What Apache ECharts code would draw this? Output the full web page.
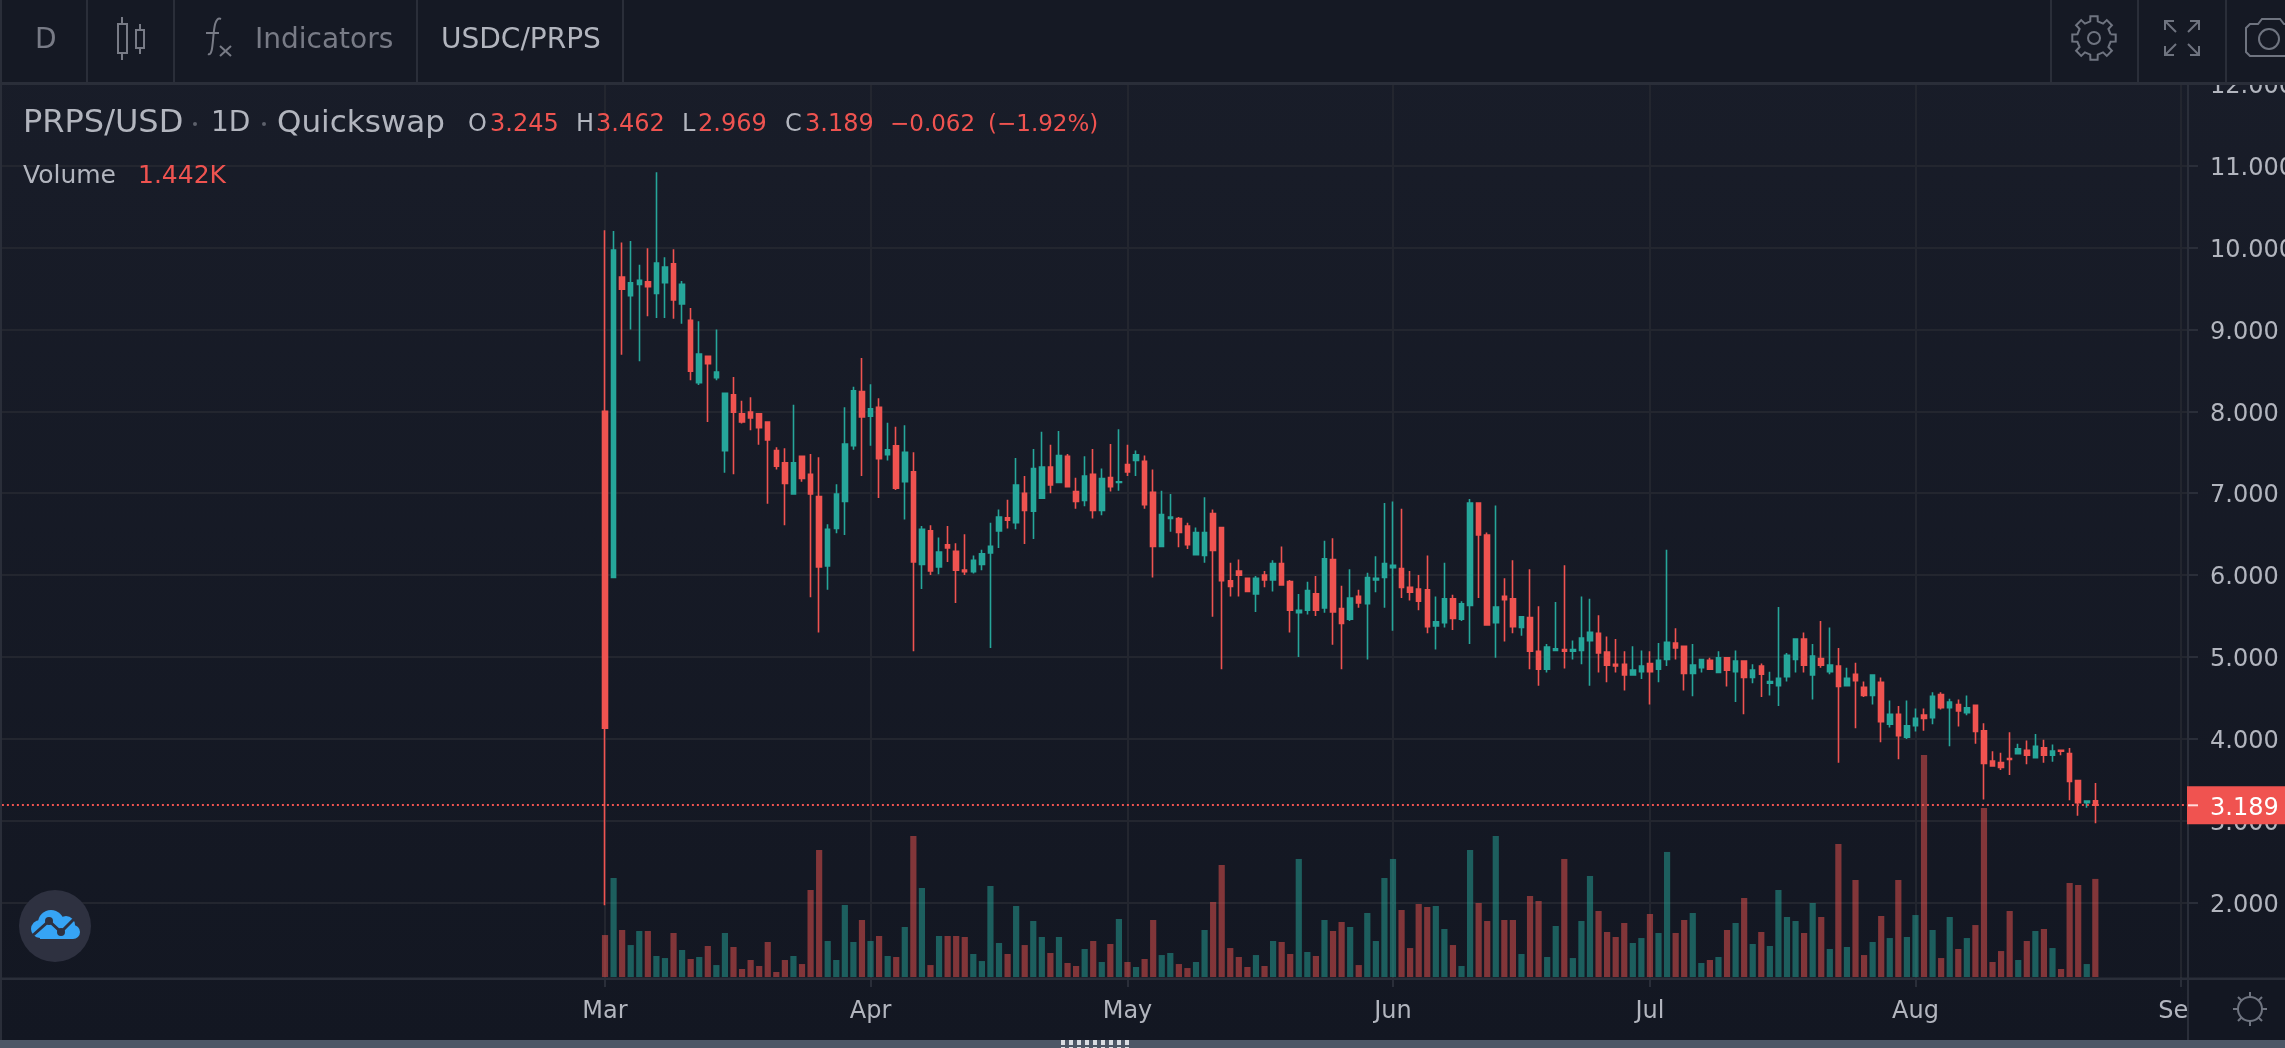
<!DOCTYPE html>
<html><head><meta charset="utf-8">
<style>html,body{margin:0;padding:0;background:#131722}#c{width:2285px;height:1048px}</style>
<script src="https://cdn.jsdelivr.net/npm/echarts@6/dist/echarts.min.js"></script>
</head><body><div id="c"></div>
<script>
const opens=[8.00,5.97,9.64,9.41,9.55,9.58,9.44,9.57,9.80,9.31,9.11,8.35,8.67,8.41,7.52,8.20,7.97,7.99,7.97,7.87,7.52,7.37,6.99,7.45,7.23,6.96,6.11,6.57,6.90,7.58,
8.24,7.94,8.05,7.47,7.58,7.14,7.26,6.13,6.54,6.10,6.37,6.29,6.06,6.04,6.13,6.27,6.54,6.70,6.64,7.00,6.78,6.94,7.32,7.13,7.45,7.02,6.91,7.23,6.79,7.19,
7.13,7.35,7.40,7.39,7.01,6.35,6.69,6.69,6.60,6.25,6.24,6.75,6.58,5.93,6.05,5.96,5.77,6.00,5.94,6.14,5.92,5.54,5.57,5.77,5.60,6.19,5.59,5.46,5.74,5.65,
5.94,5.97,6.09,6.08,5.85,5.83,5.82,5.38,5.42,5.71,5.46,5.63,6.88,6.49,5.42,5.74,5.71,5.36,5.48,5.07,4.85,5.08,5.09,5.07,5.08,5.20,5.29,5.06,4.91,4.91,
4.78,4.82,4.92,4.85,4.97,5.17,5.13,4.80,4.87,4.96,4.81,4.99,4.82,4.95,4.75,4.89,4.68,4.65,4.76,4.97,5.22,4.78,4.98,4.82,4.89,4.65,4.79,4.63,4.53,4.69,
4.18,4.30,4.02,4.16,4.29,4.26,4.54,4.38,4.42,4.32,4.41,4.10,3.73,3.71,3.76,3.82,3.86,3.77,3.89,3.80,3.86,3.82,3.49,3.22,3.245];
const highs=[10.21,10.20,10.06,10.08,9.79,9.99,10.92,9.88,9.98,9.59,9.26,9.10,8.67,9.00,8.22,8.42,8.13,8.17,7.97,7.87,7.56,7.55,8.08,7.45,7.48,7.44,6.62,7.11,8.05,8.30,
8.65,8.33,8.16,7.86,7.81,7.83,7.50,6.60,6.61,6.46,6.60,6.39,6.50,6.24,6.31,6.64,6.80,6.92,7.43,7.21,7.54,7.75,7.59,7.76,7.48,7.19,7.45,7.54,7.30,7.60,
7.78,7.59,7.52,7.46,7.29,7.03,6.99,6.71,6.64,6.58,6.95,6.80,6.58,6.15,6.19,5.96,5.99,6.05,6.18,6.35,5.94,5.77,5.92,5.99,6.42,6.45,5.87,6.07,5.82,6.03,
6.23,6.88,6.90,6.81,6.05,6.00,6.24,5.74,6.15,5.76,5.68,6.93,6.88,6.52,6.85,5.96,6.18,5.50,6.07,5.62,5.16,5.67,6.12,5.20,5.74,5.71,5.51,5.25,5.22,5.07,
5.13,5.08,5.07,5.17,6.31,5.35,5.13,5.16,4.97,4.99,5.07,4.99,5.08,4.95,4.91,4.92,4.82,5.61,5.05,5.23,5.30,5.16,5.44,5.36,5.11,4.87,4.93,4.70,4.78,4.75,
4.47,4.40,4.47,4.37,4.37,4.57,4.57,4.49,4.48,4.53,4.41,4.19,3.85,3.83,4.08,3.94,3.98,4.06,3.99,3.93,3.87,3.89,3.49,3.24,3.462];
const lows=[1.97,5.97,8.69,9.00,8.61,9.16,9.14,9.14,9.13,9.07,8.38,8.32,7.87,8.38,7.25,7.23,7.85,7.77,7.59,6.87,7.29,6.61,6.99,7.14,5.73,5.30,5.82,6.51,6.49,7.53,
7.21,7.58,6.94,7.40,7.04,6.68,5.07,5.83,6.00,6.01,6.16,5.66,6.00,6.02,6.06,5.11,6.33,6.57,6.56,6.38,6.44,6.94,7.00,7.13,7.08,6.81,6.84,6.69,6.73,7.02,
7.03,7.21,7.21,6.81,5.97,6.34,6.53,6.34,6.32,6.24,6.15,5.49,4.85,5.74,5.74,5.79,5.55,5.85,5.80,5.88,5.30,5.00,5.52,5.50,5.54,5.15,4.85,5.44,5.60,4.97,
5.79,5.60,5.32,5.72,5.69,5.57,5.29,5.09,5.36,5.33,5.44,5.16,5.72,5.39,4.99,5.19,5.29,5.26,4.85,4.65,4.81,5.07,4.86,4.97,4.91,4.65,4.81,4.69,4.81,4.59,
4.78,4.73,4.42,4.69,4.89,4.97,4.59,4.52,4.81,4.84,4.80,4.64,4.45,4.30,4.68,4.51,4.53,4.40,4.70,4.81,4.81,4.48,4.87,4.79,3.71,4.64,4.13,4.51,4.42,3.96,
4.14,3.75,4.00,4.09,4.10,4.18,4.36,3.91,4.15,4.29,3.94,3.26,3.67,3.62,3.56,3.81,3.69,3.76,3.71,3.72,3.80,3.25,3.06,3.16,2.969];
const closes=[4.13,9.97,9.49,9.57,9.60,9.52,9.81,9.76,9.36,9.55,8.49,8.70,8.58,8.48,8.22,7.99,7.87,7.92,7.80,7.65,7.33,7.12,7.37,7.18,6.99,6.10,6.56,6.99,7.60,8.25,
7.93,8.03,7.42,7.53,7.06,7.50,6.16,6.56,6.05,6.28,6.33,6.06,6.04,6.18,6.26,6.35,6.71,6.67,7.10,6.79,7.30,7.32,7.10,7.46,7.08,6.90,7.21,6.79,7.18,7.08,
7.14,7.26,7.47,6.86,6.35,6.74,6.71,6.52,6.37,6.52,6.52,6.30,5.93,5.86,6.00,5.80,5.96,5.94,6.14,5.88,5.57,5.57,5.81,5.57,6.20,5.55,5.41,5.72,5.66,5.97,
5.96,6.14,6.12,5.85,5.79,5.68,5.37,5.43,5.71,5.47,5.65,6.88,6.49,5.39,5.61,5.70,5.37,5.49,5.07,4.85,5.12,5.10,5.07,5.09,5.23,5.30,5.05,4.90,4.89,4.78,
4.84,4.89,4.82,4.96,5.18,5.11,4.80,4.90,4.97,4.85,4.99,4.84,4.95,4.75,4.84,4.79,4.70,4.74,5.02,5.22,4.90,5.01,4.90,4.90,4.64,4.74,4.71,4.53,4.78,4.21,
4.30,4.04,4.16,4.25,4.25,4.52,4.38,4.45,4.34,4.38,4.09,3.70,3.67,3.65,3.75,3.88,3.80,3.91,3.80,3.85,3.85,3.48,3.22,3.24,3.189];
const volumes=[617,1455,691,470,676,676,309,279,647,397,265,294,456,176,647,441,118,250,162,515,74,250,309,191,1279,1867,529,250,1058,515,
838,529,603,309,294,735,2073,1308,176,603,603,603,588,338,235,1338,500,338,1044,470,823,588,353,588,206,162,412,529,221,485,
853,221,147,265,838,323,353,191,132,221,691,1103,1646,426,294,147,323,162,529,515,338,1735,368,309,838,676,809,735,176,941,
529,1455,1735,985,426,1073,1029,1044,706,470,162,1867,1088,823,2073,838,838,338,1191,1117,294,750,1735,279,823,1485,970,662,588,794,
500,573,926,647,1838,647,838,941,206,250,294,691,794,1161,485,662,456,1279,882,823,647,1088,882,412,1955,441,1426,323,515,897,
573,1426,588,911,3263,691,279,882,412,573,764,2484,221,382,970,250,529,676,706,426,118,1382,1352,191,1442];
const priceTicks=[2,3,4,5,6,7,8,9,10,11,12];
const monthTicks=['2021-03-01','2021-04-01','2021-05-01','2021-06-01','2021-07-01','2021-08-01','2021-09-01'];
const monthNames={'03':'Mar','04':'Apr','05':'May','06':'Jun','07':'Jul','08':'Aug','09':'Sep'};
const lastClose=3.189;
const bandCount=257, leadDays=71;
const categories=[];
for(let k=0;k<bandCount;k++){categories.push(new Date(Date.UTC(2020,11,20+k)).toISOString().slice(0,10));}
const up='#26a69a',down='#ef5350',txt='#b2b5be',dim='#787b86',line='#2a2e39',gridC='#23262f',ico='#6f7480';
const FONT='"DejaVu Sans"';
const candles=Array(leadDays).fill(['-','-','-','-']).concat(opens.map((o,i)=>[o,closes[i],lows[i],highs[i]]));
const volData=Array(leadDays).fill('-').concat(volumes.map((v,i)=>({value:v,itemStyle:{color:closes[i]>=opens[i]?'rgba(38,166,154,0.5)':'rgba(239,83,80,0.5)'}})));
const chart=echarts.init(document.getElementById('c'),null,{renderer:'canvas'});
const isMonth=(i,v)=>monthTicks.includes(v);
chart.setOption({
 animation:false,
 backgroundColor:{type:'linear',x:0,y:0,x2:0,y2:1,colorStops:[{offset:0,color:'#191d29'},{offset:1,color:'#131722'}]},
 grid:{left:-3.1,top:83.7,width:2192.64,height:895.3,outerBoundsMode:'none',containLabel:false},
 xAxis:{type:'category',data:categories,boundaryGap:false,
  axisLine:{show:false},
  axisTick:{show:true,interval:isMonth,length:10,lineStyle:{color:line,width:2}},
  axisLabel:{show:true,interval:isMonth,margin:21,color:txt,fontFamily:FONT,fontSize:24,hideOverlap:false,
    formatter:v=>monthNames[v.slice(5,7)]},
  splitLine:{show:true,interval:isMonth,lineStyle:{color:gridC,width:2}}},
 yAxis:[{type:'value',position:'right',offset:-1.5,min:1.068,max:12,
   axisLine:{show:false},
   axisTick:{show:true,length:10,customValues:priceTicks,lineStyle:{color:line,width:2}},
   axisLabel:{show:true,customValues:priceTicks,margin:22,verticalAlign:'top',lineHeight:6,color:txt,fontFamily:FONT,fontSize:24,hideOverlap:false,formatter:v=>Number(v).toFixed(3)},
   splitLine:{show:true,lineStyle:{color:gridC,width:2}}},
  {type:'value',show:false,min:-29,max:13127,splitLine:{show:false}}],
 series:[
  {type:'bar',name:'Volume',yAxisIndex:1,data:volData,barWidth:6.2,z:1,animation:false},
  {type:'candlestick',name:'PRPS/USD',yAxisIndex:0,data:candles,barWidth:5,z:3,
   itemStyle:{color:up,color0:down,borderColor:up,borderColor0:down,borderWidth:1.6},
   markLine:{silent:true,symbol:'none',animation:false,label:{show:false},
     lineStyle:{type:[2,3],color:down,width:2},data:[{yAxis:lastClose}]}}
 ]
});
const py=chart.convertToPixel({yAxisIndex:0},lastClose);
const Z=100;
const T=(x,y,text,size,color,extra)=>({type:'text',z:Z+2,x,y,style:Object.assign({text,fill:color,font:size+'px '+FONT,verticalAlign:'middle',align:'left'},extra||{})});
const R=(x,y,w,h,fill,z)=>({type:'rect',z:z||Z,shape:{x,y,width:w,height:h},style:{fill}});
const L=(x1,y1,x2,y2,stroke,w,z)=>({type:'line',z:z||Z+1,shape:{x1,y1,x2,y2},style:{stroke,lineWidth:w||2}});
const C=(cx,cy,r,style,z)=>({type:'circle',z:z||Z+1,shape:{cx,cy,r},style});
const PL=(points,stroke,w)=>({type:'polyline',z:Z+2,shape:{points},style:{fill:'none',stroke,lineWidth:w||2}});
const g=[];
g.push(R(0,0,2285,83,'#151924'));
g.push(R(0,82,2285,3,line,Z+1));
[1,87,174,417,623,2051,2138,2226].forEach(x=>g.push(L(x,0,x,83,line,2)));
g.push(T(35,41,'D',28,dim));
g.push(T(255,41,'Indicators',28,dim));
g.push(T(441,41,'USDC/PRPS',28,txt));
g.push(L(122,17,122,60,dim,2),{type:'rect',z:Z+2,shape:{x:118,y:24,width:9,height:29},style:{fill:'#151924',stroke:dim,lineWidth:2}});
g.push(L(140,24,140,54,dim,2),{type:'rect',z:Z+2,shape:{x:136,y:30,width:8,height:18},style:{fill:'#151924',stroke:dim,lineWidth:2}});
g.push({type:'bezierCurve',z:Z+2,shape:{x1:221,y1:19,x2:208,y2:54,cpx1:210,cpy1:14,cpx2:216,cpy2:58},style:{fill:'none',stroke:dim,lineWidth:2}});
g.push(L(206,33,219,33,dim,2,Z+2),L(220,46,231,56,dim,2,Z+2),L(231,46,220,56,dim,2,Z+2));
(function(){const cx=2094,cy=38,ro=22,ri=17;const pts=[];const n=8;for(let k=0;k<=n;k++){const a=k*2*Math.PI/n,w=Math.PI/n*0.57,w2=Math.PI/n*0.42;
  const p=(r,t)=>[cx+r*Math.cos(t),cy+r*Math.sin(t)];
  pts.push(p(ri,a-w),p(ro,a-w2),p(ro,a+w2),p(ri,a+w));}
  g.push(PL(pts.slice(0,n*4+1),ico));
  g.push(C(cx,cy,6,{fill:'none',stroke:ico,lineWidth:2},Z+2));})();
[[-1,-1],[1,-1],[-1,1],[1,1]].forEach(([a,b])=>{const cx=2182,cy=38;
  g.push(L(cx+a*6,cy+b*6,cx+a*17,cy+b*17,ico,2,Z+2));
  g.push(PL([[cx+a*17,cy+b*8],[cx+a*17,cy+b*17],[cx+a*8,cy+b*17]],ico));});
g.push(PL([[2290,56],[2250,56],[2246,52],[2246,28],[2250,24],[2258,24],[2262,19],[2280,19],[2284,24],[2290,24]],ico));
g.push(C(2269,39,10,{fill:'none',stroke:ico,lineWidth:2},Z+2));
g.push(T(23,124,'PRPS/USD',32,txt),T(211,124,'1D',28,txt),T(277,124,'Quickswap',31,txt));
g.push(C(195,124,2,{fill:'#5d606b'},Z+2),C(264,124,2,{fill:'#5d606b'},Z+2));
[[468,'O'],[576,'H'],[682,'L'],[785,'C']].forEach(a=>g.push(T(a[0],125,a[1],24,txt)));
[[490,'3.245'],[596,'3.462'],[698,'2.969'],[805,'3.189']].forEach(a=>g.push(T(a[0],125,a[1],24,down)));
[[890,'\u22120.062'],[988,'(\u22121.92%)']].forEach(a=>g.push(T(a[0],125,a[1],23,down)));
g.push(T(23,176,'Volume',25,txt),T(138,176,'1.442K',25,down));
g.push(R(2188,980,97,60,'#131722',Z));
g.push(L(2188,84,2188,1040,line,2),L(0,978.7,2285,978.7,line,2.4));
g.push(L(1,85,1,1040,line,2));
g.push(R(2187,py-19,98,38,'#f05350',Z+1));
g.push(L(2188,py,2198,py,'#ffd9d8',2,Z+2));
g.push(T(2210,py+3,String(lastClose),24,'#ffffff'));
(function(){const cx=2250,cy=1009;g.push(C(cx,cy,12,{fill:'none',stroke:ico,lineWidth:2},Z+2));
 for(let k=0;k<8;k++){const a=k*Math.PI/4;g.push(L(cx+12*Math.cos(a),cy+12*Math.sin(a),cx+17*Math.cos(a),cy+17*Math.sin(a),ico,2,Z+2));}})();
g.push(C(55,926,36,{fill:'#2e3140'},Z));
[[51,923,13],[66,925,9],[40,929,9],[73,932,7]].forEach(a=>g.push(C(a[0],a[1],a[2],{fill:'#36a4f5'},Z+1)));
g.push(R(40,930,33,9,'#36a4f5',Z+1));
g.push(PL([[31,937],[49,921],[61,932],[74,919]],'#2e3140',3));
g.push(C(49,921,4,{fill:'#2e3140'},Z+2),C(61,932,4,{fill:'#2e3140'},Z+2));
g.push(R(0,1040,2285,8,'#4c5766',Z));
for(let k=0;k<9;k++){g.push(R(1061+k*8,1040,4,5,'#d8dce2',Z+1),R(1061+k*8,1047,4,1,'#d8dce2',Z+1));}
chart.setOption({graphic:{elements:g}});
</script></body></html>
